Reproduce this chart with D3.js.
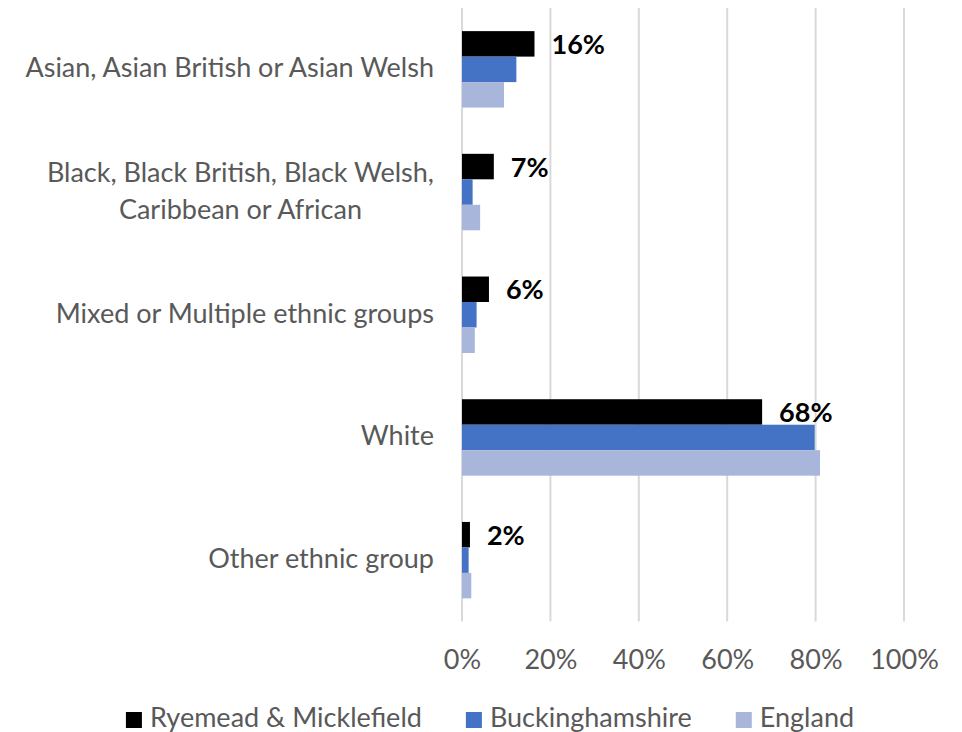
<!DOCTYPE html>
<html>
<head>
<meta charset="utf-8">
<script src="https://cdn.jsdelivr.net/npm/d3@7"></script>
<style>
  body { margin: 0; background: #fff; }
  svg { display: block; }
  text { font-family: Lato, "Open Sans", sans-serif; }
</style>
</head>
<body>
<svg id="chart" width="962" height="732"></svg>
<script>
// Ethnic group shares (%), Census 2021
const categories = [
  "Asian, Asian British or Asian Welsh",
  "Black, Black British, Black Welsh, Caribbean or African",
  "Mixed or Multiple ethnic groups",
  "White",
  "Other ethnic group"
];
const seriesNames = ["Ryemead & Micklefield", "Buckinghamshire", "England"];
const ryemead = [16.4, 7.2, 6.1, 67.9, 1.8];
const buckinghamshire = [12.3, 2.4, 3.3, 79.8, 1.5];
const england = [9.5, 4.1, 2.9, 81.0, 2.1];
const seriesColors = ["#000000", "#4472c4", "#a8b6dc"];
const tickValues = [0, 20, 40, 60, 80, 100];

const seriesValues = [ryemead, buckinghamshire, england];
const rows = categories.map((c, i) => ({
  category: c,
  values: seriesNames.map((s, j) => ({ series: s, value: seriesValues[j][i] }))
}));

const svg = d3.select("#chart");
const grey = "#595959";
const fontSize = 27;

const plot = { left: 462, right: 904, top: 8, bottom: 621.5 };

const x = d3.scaleLinear().domain([0, 100]).range([plot.left, plot.right]);
const y = d3.scaleBand().domain(categories).range([plot.top, plot.bottom])
  .paddingInner(0.377).paddingOuter(0.1885);
const ySeries = d3.scaleBand().domain(seriesNames).range([0, y.bandwidth()]);
const color = d3.scaleOrdinal().domain(seriesNames).range(seriesColors);

// vertical gridlines (0% line included)
svg.append("g")
  .selectAll("line")
  .data(tickValues)
  .join("line")
  .attr("x1", d => x(d)).attr("x2", d => x(d))
  .attr("y1", plot.top).attr("y2", plot.bottom)
  .attr("stroke", "#d9d9d9")
  .attr("stroke-width", 2);

// x axis tick labels
const xAxis = d3.axisBottom(x).tickValues(tickValues).tickSize(0).tickPadding(0)
  .tickFormat(d => d + "%");
const gx = svg.append("g").attr("transform", `translate(0, 669)`).call(xAxis);
gx.select(".domain").remove();
gx.selectAll("text")
  .attr("y", 0).attr("dy", 0)
  .attr("fill", grey)
  .style("font-size", fontSize + "px")
  .style("font-family", "Lato, 'Open Sans', sans-serif");

// category labels, wrapped and centred as a block right-aligned to the axis
const labelRight = 434;
const maxLabelWidth = 425;
const lineHeight = 37;
categories.forEach(cat => {
  const cy = y(cat) + y.bandwidth() / 2;
  const t = svg.append("text")
    .attr("fill", grey)
    .style("font-size", fontSize + "px")
    .attr("text-anchor", "middle");
  const words = cat.split(" ");
  const lines = [];
  let line = [];
  const probe = t.append("tspan");
  words.forEach(w => {
    const trial = line.concat(w).join(" ");
    probe.text(trial);
    if (probe.node().getComputedTextLength() > maxLabelWidth && line.length) {
      lines.push(line.join(" "));
      line = [w];
    } else {
      line.push(w);
    }
  });
  lines.push(line.join(" "));
  probe.remove();
  let blockW = 0;
  const spans = lines.map(l => {
    const s = t.append("tspan").text(l);
    blockW = Math.max(blockW, s.node().getComputedTextLength());
    return s;
  });
  const first = cy + 8 - (lines.length - 1) * lineHeight / 2;
  spans.forEach((s, i) => {
    s.attr("x", labelRight - blockW / 2).attr("y", first + i * lineHeight);
  });
});

// bars
const groups = svg.append("g")
  .selectAll("g")
  .data(rows)
  .join("g")
  .attr("transform", d => `translate(0, ${y(d.category)})`);

groups.selectAll("rect")
  .data(d => d.values)
  .join("rect")
  .attr("x", x(0))
  .attr("y", d => ySeries(d.series))
  .attr("width", d => x(d.value) - x(0))
  .attr("height", ySeries.bandwidth())
  .attr("fill", d => color(d.series));

// value labels for the ward series
groups.append("text")
  .attr("x", d => x(d.values[0].value) + 17)
  .attr("y", ySeries(seriesNames[0]) + ySeries.bandwidth() / 2 + 10)
  .attr("fill", "#000")
  .style("font-size", fontSize + "px")
  .style("font-weight", "bold")
  .text(d => Math.round(d.values[0].value) + "%");

// legend
const legend = svg.append("g");
const items = legend.selectAll("g")
  .data(seriesNames)
  .join("g");
items.append("rect")
  .attr("width", 16).attr("height", 16)
  .attr("y", 712)
  .attr("fill", d => color(d));
items.append("text")
  .attr("x", 24)
  .attr("y", 727)
  .attr("fill", grey)
  .style("font-size", fontSize + "px")
  .text(d => d);
let cursor = 0;
const gap = 44;
items.each(function () {
  const g = d3.select(this);
  g.attr("transform", `translate(${cursor},0)`);
  cursor += 24 + g.select("text").node().getComputedTextLength() + gap;
});
const legendWidth = cursor - gap;
legend.attr("transform", `translate(${490 - legendWidth / 2},0)`);
</script>
</body>
</html>
